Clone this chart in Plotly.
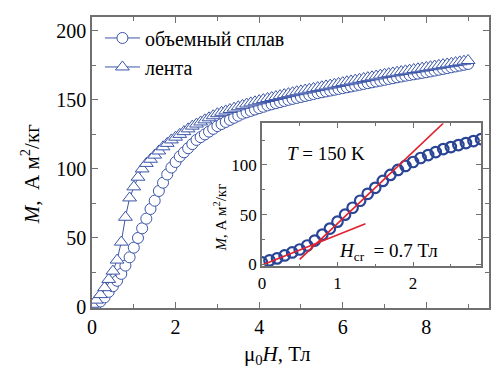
import plotly.graph_objects as go

# ---------------- data ----------------
field_main = [round(0.1 * i, 1) for i in range(91)]  # T

m_bulk = [0.5, 2, 4, 7, 11, 15, 19, 24, 30, 36,
          43, 50, 57, 64, 71, 77, 84, 90, 96, 101,
          105, 109, 112, 115, 118, 121, 123, 125, 127, 129,
          131, 132.5, 134, 135.5, 137, 138.5, 140, 141, 142, 143,
          144, 145, 146, 146.8, 147.6, 148.4, 149.2, 150, 150.7, 151.4,
          152.1, 152.8, 153.5, 154.2, 154.9, 155.5, 156.1, 156.7, 157.3, 157.9,
          158.5, 159.1, 159.7, 160.3, 160.9, 161.5, 162.1, 162.7, 163.3, 163.9,
          164.5, 165.1, 165.7, 166.3, 166.9, 167.5, 168, 168.5, 169, 169.5,
          170, 170.6, 171.2, 171.8, 172.4, 173, 173.6, 174.2, 174.8, 175.4,
          176]

m_ribbon = [2, 5, 9, 14, 20, 26, 34, 47, 65, 79,
            87, 94, 100, 104, 107, 110, 113, 116, 118.5, 121,
            123, 125, 127, 129, 131, 132.5, 134, 135.5, 137, 138.5,
            140, 141, 142, 143, 144, 145, 146, 147, 147.8, 148.6,
            149.4, 150.2, 151, 151.7, 152.4, 153.1, 153.8, 154.5, 155.2, 155.9,
            156.5, 157.1, 157.7, 158.3, 158.9, 159.5, 160.1, 160.7, 161.3, 161.9,
            162.5, 163.1, 163.7, 164.3, 164.9, 165.5, 166.1, 166.7, 167.3, 167.9,
            168.5, 169, 169.5, 170, 170.5, 171, 171.5, 172, 172.5, 173,
            173.5, 174, 174.5, 175, 175.5, 176, 176.5, 177, 177.5, 178,
            178.5]

field_inset = [round(0.1 * i, 1) for i in range(30)]
m_inset = [2, 4, 6, 9, 12, 15, 19, 24, 30, 36,
           43, 50, 57, 64, 71, 77, 84, 90, 95, 99,
           103, 107, 110, 113, 116, 118, 120, 122, 124, 126]

fit_steep_x = [0.5, 2.4]
fit_steep_y = [5, 142]
fit_low_x = [0.02, 1.37]
fit_low_y = [0, 41]

x_ticks_main = [0, 2, 4, 6, 8]
y_ticks_main = [0, 50, 100, 150, 200]
x_ticks_inset = [0, 1, 2]
y_ticks_inset = [0, 50, 100]

series_names = ["объемный сплав", "лента"]

# ---------------- styling ----------------
FONT = "Liberation Serif, Times New Roman, serif"
BLUE = "#3b55a8"
DARK_BLUE = "#2a4596"
RED = "#e0202c"
AXIS = "#707070"

fig = go.Figure()

fig.add_trace(go.Scatter(
    x=field_main, y=m_bulk, mode="lines+markers", name=series_names[0],
    line=dict(color=BLUE, width=1),
    marker=dict(symbol="circle", size=11, color="white", line=dict(color=BLUE, width=1)),
    xaxis="x", yaxis="y"))
fig.add_trace(go.Scatter(
    x=field_main, y=m_ribbon, mode="lines+markers", name=series_names[1],
    line=dict(color=BLUE, width=1),
    marker=dict(symbol="triangle-up", size=12, color="white", line=dict(color=BLUE, width=1)),
    xaxis="x", yaxis="y"))

# inset
fig.add_trace(go.Scatter(
    x=field_inset, y=m_inset, mode="markers", showlegend=False,
    marker=dict(symbol="circle-open", size=10.5, color=DARK_BLUE, line=dict(width=2.2)),
    xaxis="x2", yaxis="y2"))
fig.add_trace(go.Scatter(
    x=fit_steep_x, y=fit_steep_y, mode="lines", showlegend=False,
    line=dict(color=RED, width=1.6), xaxis="x2", yaxis="y2"))
fig.add_trace(go.Scatter(
    x=fit_low_x, y=fit_low_y, mode="lines", showlegend=False,
    line=dict(color=RED, width=1.6), xaxis="x2", yaxis="y2"))

axis_common = dict(showline=True, linecolor=AXIS, linewidth=1.6, mirror="ticks",
                   ticks="inside", tickcolor=AXIS, tickwidth=1.2, showgrid=False,
                   zeroline=False)

# The page body adds an 8 px offset, so the figure is 8 px smaller and margins shifted.
fig.update_layout(
    width=492, height=374,
    margin=dict(l=84, r=11, t=7, b=74),
    paper_bgcolor="white", plot_bgcolor="white",
    font=dict(family=FONT, color="black"),
    showlegend=True,
    legend=dict(x=0.02, y=0.995, xanchor="left", yanchor="top",
                font=dict(family=FONT, size=20, color="black"),
                bgcolor="rgba(0,0,0,0)", itemwidth=35, tracegroupgap=4),
    xaxis=dict(domain=[0, 1], range=[0, 9.5], tickvals=x_ticks_main, ticklen=6,
               tickfont=dict(family=FONT, size=20, color="black"),
               minor=dict(dtick=1, tick0=0, ticklen=4, ticks="inside", tickcolor=AXIS),
               **axis_common),
    yaxis=dict(domain=[0, 1], range=[-0.7, 210], tickvals=y_ticks_main, ticklen=6,
               tickfont=dict(family=FONT, size=20, color="black"),
               minor=dict(dtick=25, tick0=0, ticklen=4, ticks="inside", tickcolor=AXIS),
               **axis_common),
    xaxis2=dict(domain=[0.428, 0.98], anchor="y2", range=[0, 2.9], tickvals=x_ticks_inset,
                ticklen=5, tickfont=dict(family=FONT, size=17, color="black"),
                minor=dict(dtick=0.5, tick0=0, ticklen=3, ticks="inside", tickcolor=AXIS),
                **axis_common),
    yaxis2=dict(domain=[0.143, 0.635], anchor="x2", range=[-2, 142], tickvals=y_ticks_inset,
                ticklen=5, tickfont=dict(family=FONT, size=17, color="black"),
                minor=dict(dtick=25, tick0=0, ticklen=3, ticks="inside", tickcolor=AXIS),
                **axis_common),
)

annotations = [
    dict(text="μ<sub>0</sub><i>H</i>, Тл", x=0.466, y=-0.16, xref="paper", yref="paper",
         xanchor="center", yanchor="middle", showarrow=False, font=dict(family=FONT, size=21)),
    dict(text="<i>M</i>,  А м<sup>2</sup>/кг", x=-0.156, y=0.46, xref="paper", yref="paper",
         xanchor="center", yanchor="middle", textangle=-90, showarrow=False,
         font=dict(family=FONT, size=21)),
    dict(text="<i>T</i> = 150 K", x=0.3, y=112, xref="x2", yref="y2",
         xanchor="left", yanchor="middle", showarrow=False, font=dict(family=FONT, size=19)),
    dict(text="<i>H</i><sub>cr</sub>  = 0.7 Тл", x=1.0, y=12, xref="x2", yref="y2",
         xanchor="left", yanchor="middle", showarrow=False, font=dict(family=FONT, size=19)),
    dict(text="μ<sub>0</sub><i>H</i>, Тл", x=1.12, y=-16, xref="x2", yref="y2",
         xanchor="left", yanchor="middle", showarrow=False, font=dict(family=FONT, size=15)),
    dict(text="<i>M</i>, А м<sup>2</sup>/кг", x=0.322, y=0.31, xref="paper", yref="paper",
         xanchor="center", yanchor="middle", textangle=-90, showarrow=False,
         font=dict(family=FONT, size=15)),
]
fig.update_layout(annotations=annotations)

fig.write_html("out.html")
